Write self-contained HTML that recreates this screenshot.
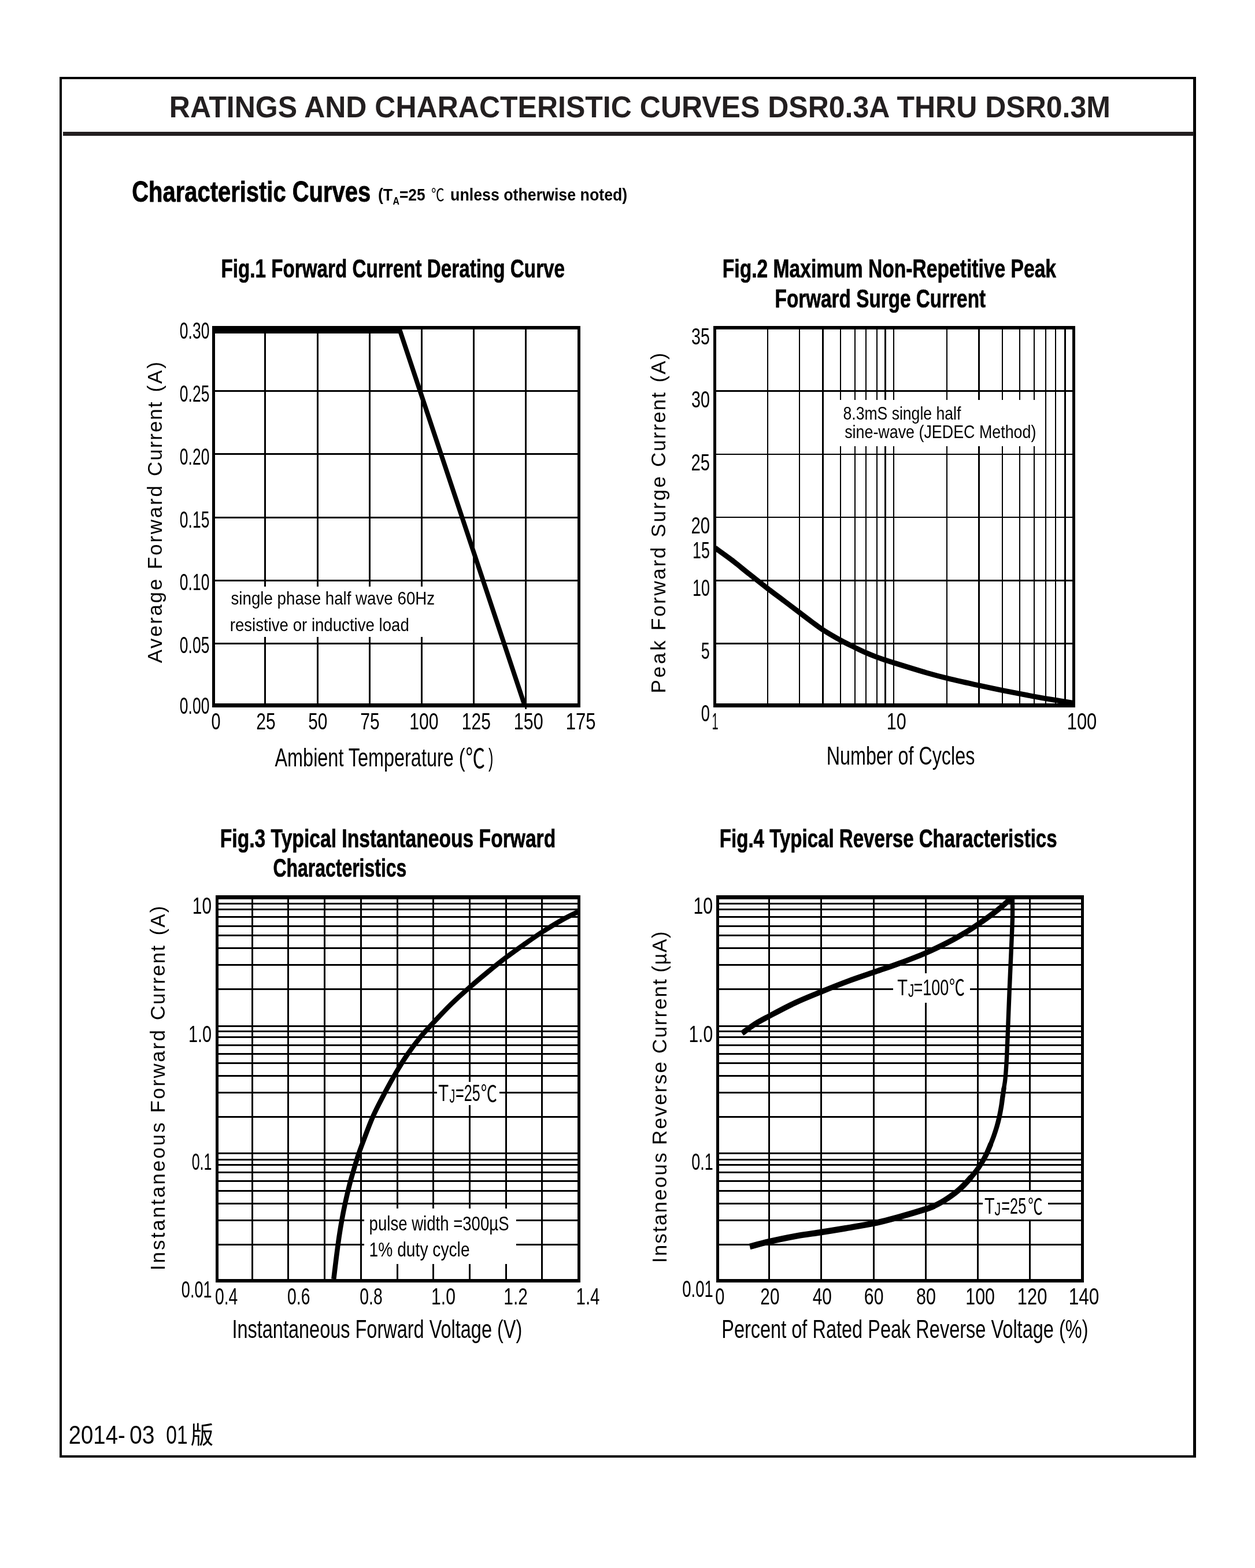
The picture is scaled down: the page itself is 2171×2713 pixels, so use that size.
<!DOCTYPE html>
<html lang="en"><head><meta charset="utf-8"><title>RATINGS AND CHARACTERISTIC CURVES DSR0.3A THRU DSR0.3M</title>
<style>
html,body{margin:0;padding:0;background:#fff}
body{width:2171px;height:2713px;overflow:hidden}
svg{display:block}
text{font-family:"Liberation Sans",sans-serif;fill:#000;white-space:pre}
</style></head><body>
<svg width="2171" height="2713" viewBox="0 0 2171 2713">
<rect width="2171" height="2713" fill="#fff"/>
<g shape-rendering="crispEdges">
<rect x="105.3" y="135.3" width="1961.3" height="2384.4" fill="none" stroke="#000" stroke-width="4.3"/>
<rect x="109" y="228" width="1956" height="6.6" fill="#231f20"/>
<rect x="457" y="564" width="3" height="660" fill="#000"/>
<rect x="548" y="564" width="3" height="660" fill="#000"/>
<rect x="638" y="564" width="3" height="660" fill="#000"/>
<rect x="728" y="564" width="3" height="660" fill="#000"/>
<rect x="818" y="564" width="3" height="660" fill="#000"/>
<rect x="908" y="564" width="3" height="660" fill="#000"/>
<rect x="367" y="675" width="637" height="3" fill="#000"/>
<rect x="367" y="784" width="637" height="3" fill="#000"/>
<rect x="367" y="894" width="637" height="3" fill="#000"/>
<rect x="367" y="1003" width="637" height="3" fill="#000"/>
<rect x="367" y="1112" width="637" height="3" fill="#000"/>
<rect x="373" y="1014.5" width="397" height="87.5" fill="#fff"/>
<rect x="367" y="564" width="5" height="660" fill="#000"/>
<rect x="999" y="564" width="5" height="660" fill="#000"/>
<rect x="367" y="564" width="637" height="6" fill="#000"/>
<rect x="367" y="1217" width="637" height="7" fill="#000"/>
<rect x="367" y="564" width="325" height="12.8" fill="#000"/>
<rect x="908" y="1217" width="3" height="10" fill="#000"/>
<rect x="1326.9" y="564" width="2.2" height="660" fill="#000"/>
<rect x="1382" y="564" width="2.2" height="660" fill="#000"/>
<rect x="1422.4" y="564" width="2.2" height="660" fill="#000"/>
<rect x="1452.5" y="564" width="2.2" height="660" fill="#000"/>
<rect x="1477.5" y="564" width="2.2" height="660" fill="#000"/>
<rect x="1497.2" y="564" width="2.2" height="660" fill="#000"/>
<rect x="1515.5" y="564" width="2.2" height="660" fill="#000"/>
<rect x="1530.4" y="564" width="2.2" height="660" fill="#000"/>
<rect x="1545.2" y="564" width="2.2" height="660" fill="#000"/>
<rect x="1636.8" y="564" width="2.2" height="660" fill="#000"/>
<rect x="1692.4" y="564" width="2.2" height="660" fill="#000"/>
<rect x="1732.8" y="564" width="2.2" height="660" fill="#000"/>
<rect x="1762.6" y="564" width="2.2" height="660" fill="#000"/>
<rect x="1787.9" y="564" width="2.2" height="660" fill="#000"/>
<rect x="1807.9" y="564" width="2.2" height="660" fill="#000"/>
<rect x="1824.6" y="564" width="2.2" height="660" fill="#000"/>
<rect x="1841.3" y="564" width="2.2" height="660" fill="#000"/>
<rect x="1234" y="675.3" width="626" height="2.6" fill="#000"/>
<rect x="1234" y="784.7" width="626" height="2.6" fill="#000"/>
<rect x="1234" y="893.7" width="626" height="2.6" fill="#000"/>
<rect x="1234" y="1002.9" width="626" height="2.6" fill="#000"/>
<rect x="1234" y="1112.1" width="626" height="2.6" fill="#000"/>
<rect x="1436" y="691.5" width="364" height="80.7" fill="#fff"/>
<rect x="1234" y="564" width="5" height="660" fill="#000"/>
<rect x="1855" y="564" width="5" height="660" fill="#000"/>
<rect x="1234" y="564" width="626" height="6" fill="#000"/>
<rect x="1234" y="1217" width="626" height="7" fill="#000"/>
<rect x="435" y="1549" width="3" height="670" fill="#000"/>
<rect x="497" y="1549" width="3" height="670" fill="#000"/>
<rect x="560" y="1549" width="3" height="670" fill="#000"/>
<rect x="623" y="1549" width="3" height="670" fill="#000"/>
<rect x="686" y="1549" width="3" height="670" fill="#000"/>
<rect x="748" y="1549" width="3" height="670" fill="#000"/>
<rect x="811" y="1549" width="3" height="670" fill="#000"/>
<rect x="874" y="1549" width="3" height="670" fill="#000"/>
<rect x="936" y="1549" width="3" height="670" fill="#000"/>
<rect x="373" y="1562" width="631" height="3" fill="#000"/>
<rect x="373" y="1572" width="631" height="3" fill="#000"/>
<rect x="373" y="1585" width="631" height="3" fill="#000"/>
<rect x="373" y="1601" width="631" height="3" fill="#000"/>
<rect x="373" y="1617" width="631" height="3" fill="#000"/>
<rect x="373" y="1639" width="631" height="3" fill="#000"/>
<rect x="373" y="1668" width="631" height="3" fill="#000"/>
<rect x="373" y="1710" width="631" height="3" fill="#000"/>
<rect x="373" y="1774" width="631" height="3" fill="#000"/>
<rect x="373" y="1783" width="631" height="3" fill="#000"/>
<rect x="373" y="1793" width="631" height="3" fill="#000"/>
<rect x="373" y="1807" width="631" height="3" fill="#000"/>
<rect x="373" y="1822" width="631" height="3" fill="#000"/>
<rect x="373" y="1838" width="631" height="3" fill="#000"/>
<rect x="373" y="1860" width="631" height="3" fill="#000"/>
<rect x="373" y="1889" width="631" height="3" fill="#000"/>
<rect x="373" y="1931" width="631" height="3" fill="#000"/>
<rect x="373" y="1994" width="631" height="3" fill="#000"/>
<rect x="373" y="2005" width="631" height="3" fill="#000"/>
<rect x="373" y="2014" width="631" height="3" fill="#000"/>
<rect x="373" y="2027" width="631" height="3" fill="#000"/>
<rect x="373" y="2042" width="631" height="3" fill="#000"/>
<rect x="373" y="2059" width="631" height="3" fill="#000"/>
<rect x="373" y="2081" width="631" height="3" fill="#000"/>
<rect x="373" y="2110" width="631" height="3" fill="#000"/>
<rect x="373" y="2152" width="631" height="3" fill="#000"/>
<rect x="755.8" y="1871.7" width="108.4" height="40.1" fill="#fff"/>
<rect x="630.4" y="2090.8" width="262.6" height="96.2" fill="#fff"/>
<rect x="373" y="1549" width="5" height="670" fill="#000"/>
<rect x="999" y="1549" width="5" height="670" fill="#000"/>
<rect x="373" y="1549" width="631" height="6.5" fill="#000"/>
<rect x="373" y="2212.5" width="631" height="6.5" fill="#000"/>
<rect x="1329" y="1549" width="3" height="670" fill="#000"/>
<rect x="1419" y="1549" width="3" height="670" fill="#000"/>
<rect x="1510" y="1549" width="3" height="670" fill="#000"/>
<rect x="1600" y="1549" width="3" height="670" fill="#000"/>
<rect x="1690" y="1549" width="3" height="670" fill="#000"/>
<rect x="1780" y="1549" width="3" height="670" fill="#000"/>
<rect x="1239" y="1562" width="636" height="3" fill="#000"/>
<rect x="1239" y="1572" width="636" height="3" fill="#000"/>
<rect x="1239" y="1585" width="636" height="3" fill="#000"/>
<rect x="1239" y="1601" width="636" height="3" fill="#000"/>
<rect x="1239" y="1617" width="636" height="3" fill="#000"/>
<rect x="1239" y="1639" width="636" height="3" fill="#000"/>
<rect x="1239" y="1668" width="636" height="3" fill="#000"/>
<rect x="1239" y="1710" width="636" height="3" fill="#000"/>
<rect x="1239" y="1774" width="636" height="3" fill="#000"/>
<rect x="1239" y="1783" width="636" height="3" fill="#000"/>
<rect x="1239" y="1793" width="636" height="3" fill="#000"/>
<rect x="1239" y="1807" width="636" height="3" fill="#000"/>
<rect x="1239" y="1822" width="636" height="3" fill="#000"/>
<rect x="1239" y="1838" width="636" height="3" fill="#000"/>
<rect x="1239" y="1860" width="636" height="3" fill="#000"/>
<rect x="1239" y="1889" width="636" height="3" fill="#000"/>
<rect x="1239" y="1931" width="636" height="3" fill="#000"/>
<rect x="1239" y="1994" width="636" height="3" fill="#000"/>
<rect x="1239" y="2005" width="636" height="3" fill="#000"/>
<rect x="1239" y="2014" width="636" height="3" fill="#000"/>
<rect x="1239" y="2027" width="636" height="3" fill="#000"/>
<rect x="1239" y="2042" width="636" height="3" fill="#000"/>
<rect x="1239" y="2059" width="636" height="3" fill="#000"/>
<rect x="1239" y="2081" width="636" height="3" fill="#000"/>
<rect x="1239" y="2110" width="636" height="3" fill="#000"/>
<rect x="1239" y="2152" width="636" height="3" fill="#000"/>
<rect x="1544.8" y="1683.6" width="133.2" height="51.4" fill="#fff"/>
<rect x="1700" y="2062" width="113" height="47.5" fill="#fff"/>
<rect x="1239" y="1549" width="5" height="670" fill="#000"/>
<rect x="1870" y="1549" width="5" height="670" fill="#000"/>
<rect x="1239" y="1549" width="636" height="6.5" fill="#000"/>
<rect x="1239" y="2212.5" width="636" height="6.5" fill="#000"/>
</g>
<g>
<path d="M686 572.5 L692 572.5 L906.8 1218" fill="none" stroke="#000" stroke-width="8" stroke-linejoin="miter"/>
<path d="M1237 948C1242.02 951.65 1257.45 962.53 1267.1 969.9C1276.75 977.27 1284.78 984.17 1294.9 992.2C1305.02 1000.23 1317.58 1010.22 1327.8 1018.1C1338.02 1025.98 1346.98 1032.53 1356.2 1039.5C1365.42 1046.47 1375.22 1053.93 1383.1 1059.9C1390.98 1065.87 1396.7 1070.28 1403.5 1075.3C1410.3 1080.32 1415.55 1084.63 1423.9 1090C1432.25 1095.37 1444.48 1102.47 1453.6 1107.5C1462.72 1112.53 1471.18 1116.55 1478.6 1120.2C1486.02 1123.85 1491.77 1126.62 1498.1 1129.4C1504.43 1132.18 1511.03 1134.8 1516.6 1136.9C1522.17 1139 1526.38 1140.3 1531.5 1142C1536.62 1143.7 1535.45 1143.43 1547.3 1147.1C1559.15 1150.77 1587.32 1159.58 1602.6 1164C1617.88 1168.42 1623.7 1169.9 1639 1173.6C1654.3 1177.3 1678.47 1182.7 1694.4 1186.2C1710.33 1189.7 1718.67 1191.42 1734.6 1194.6C1750.53 1197.78 1774.37 1202.43 1790 1205.3C1805.63 1208.17 1817.23 1209.93 1828.4 1211.8C1839.57 1213.67 1852.23 1215.72 1857 1216.5" fill="none" stroke="#000" stroke-width="9" stroke-linecap="butt" stroke-linejoin="round"/>
<path d="M577.3 2213C578.07 2206.68 580.37 2187.15 581.9 2175.1C583.43 2163.05 584.9 2151.53 586.5 2140.7C588.1 2129.87 589.72 2119.98 591.5 2110.1C593.28 2100.22 594.97 2091.6 597.2 2081.4C599.43 2071.2 602.35 2058.78 604.9 2048.9C607.45 2039.02 609.95 2030.72 612.5 2022.1C615.05 2013.48 617.65 2004.85 620.2 1997.2C622.75 1989.55 623.67 1987.03 627.8 1976.2C631.93 1965.37 638.62 1946.55 645 1932.2C651.38 1917.85 659.4 1902.85 666.1 1890.1C672.8 1877.35 678.82 1866.55 685.2 1855.7C691.58 1844.85 697.38 1835.22 704.4 1825C711.42 1814.78 719.78 1803.63 727.3 1794.4C734.82 1785.17 740.57 1779.17 749.5 1769.6C758.43 1760.03 770.43 1747.2 780.9 1737C791.37 1726.8 801.78 1717.63 812.3 1708.4C822.82 1699.17 833.48 1690.22 844 1681.6C854.52 1672.98 864.88 1664.68 875.4 1656.7C885.92 1648.72 896.72 1641.03 907.1 1633.7C917.48 1626.37 926.85 1619.7 937.7 1612.7C948.55 1605.7 961.82 1597.57 972.2 1591.7C982.58 1585.83 995.37 1579.87 1000 1577.5" fill="none" stroke="#000" stroke-width="8.5" stroke-linecap="butt" stroke-linejoin="round"/>
<path d="M1283.6 1787.9C1287.42 1785.17 1298.67 1776.47 1306.5 1771.5C1314.33 1766.53 1319.12 1764.17 1330.6 1758.1C1342.08 1752.03 1360.42 1742.12 1375.4 1735.1C1390.38 1728.08 1405.2 1722.25 1420.5 1716C1435.8 1709.75 1452.08 1703.22 1467.2 1697.6C1482.32 1691.98 1496.53 1687.4 1511.2 1682.3C1525.87 1677.2 1540.22 1672.55 1555.2 1667C1570.18 1661.45 1586.43 1655.37 1601.1 1649C1615.77 1642.63 1631.72 1634.72 1643.2 1628.8C1654.68 1622.88 1661.9 1618.42 1670 1613.5C1678.1 1608.58 1684.15 1604.53 1691.8 1599.3C1699.45 1594.07 1708.68 1587.52 1715.9 1582.1C1723.12 1576.68 1729.75 1571.32 1735.1 1566.8C1740.45 1562.28 1745.85 1556.97 1748 1555" fill="none" stroke="#000" stroke-width="9.5" stroke-linecap="butt" stroke-linejoin="round"/>
<path d="M1734.1 1900C1734.83 1894.85 1735.77 1888.75 1736.6 1883C1737.43 1877.25 1738.27 1874.4 1739.1 1865.5C1739.93 1856.6 1740.78 1845.47 1741.6 1829.6C1742.42 1813.73 1743.2 1790.33 1744 1770.3C1744.8 1750.27 1745.55 1729.85 1746.4 1709.4C1747.25 1688.95 1748.27 1667.5 1749.1 1647.6C1749.93 1627.7 1751.02 1605.77 1751.4 1590C1751.78 1574.23 1751.4 1559.17 1751.4 1553" fill="none" stroke="#000" stroke-width="7.4" stroke-linecap="round"/>
<path d="M1706.7 1996.2C1709.2 1990.98 1711.48 1985.22 1713.6 1980C1715.72 1974.78 1717.57 1970.12 1719.4 1964.9C1721.23 1959.68 1723.05 1954.1 1724.6 1948.7C1726.15 1943.3 1727.43 1938.3 1728.7 1932.5C1729.97 1926.7 1731.3 1919.32 1732.2 1913.9C1733.1 1908.48 1733.37 1905.15 1734.1 1900C1734.83 1894.85 1735.77 1888.75 1736.6 1883" fill="none" stroke="#000" stroke-width="8.3" stroke-linecap="round"/>
<path d="M1667.2 2050.7C1671.25 2046.65 1675.12 2042.25 1678.8 2038C1682.48 2033.75 1686 2029.65 1689.3 2025.2C1692.6 2020.75 1695.7 2016.13 1698.6 2011.3C1701.5 2006.47 1704.2 2001.42 1706.7 1996.2C1709.2 1990.98 1711.48 1985.22 1713.6 1980" fill="none" stroke="#000" stroke-width="9" stroke-linecap="round"/>
<path d="M1602.3 2091.8C1612.45 2088.6 1611.68 2088.43 1616 2086.5C1620.32 2084.57 1624.1 2082.53 1628.2 2080.2C1632.3 2077.87 1636.22 2075.48 1640.6 2072.5C1644.98 2069.52 1650.07 2065.93 1654.5 2062.3C1658.93 2058.67 1663.15 2054.75 1667.2 2050.7C1671.25 2046.65 1675.12 2042.25 1678.8 2038" fill="none" stroke="#000" stroke-width="9.8" stroke-linecap="round"/>
<path d="M1297 2156.9C1302.48 2155.48 1316.5 2151.45 1329.9 2148.4C1343.3 2145.35 1362.27 2141.33 1377.4 2138.6C1392.53 2135.87 1406.5 2134.23 1420.7 2132C1434.9 2129.77 1447.5 2127.75 1462.6 2125.2C1477.7 2122.65 1495.88 2119.95 1511.3 2116.7C1526.72 2113.45 1539.93 2109.85 1555.1 2105.7C1570.27 2101.55 1592.15 2095 1602.3 2091.8C1612.45 2088.6 1611.68 2088.43 1616 2086.5" fill="none" stroke="#000" stroke-width="10.5"/>
</g>
<g>
<text x="292.78" y="202.9" textLength="1628.2" lengthAdjust="spacingAndGlyphs" style="font-size:51.2px;font-weight:bold;fill:#231f20;">RATINGS AND CHARACTERISTIC CURVES DSR0.3A THRU DSR0.3M</text>
<text style="font-size:10px"><tspan x="228.26" y="349" textLength="412.85" lengthAdjust="spacingAndGlyphs" style="font-size:50.3px;font-weight:bold;stroke:#000;stroke-width:0.9;">Characteristic Curves</tspan> <tspan x="653.88" y="347.1" textLength="25.42" lengthAdjust="spacingAndGlyphs" style="font-size:29.3px;font-weight:bold;">(T</tspan><tspan x="679.6" y="354.3" textLength="11.4" lengthAdjust="spacingAndGlyphs" style="font-size:18px;font-weight:bold;">A</tspan><tspan x="691" y="347.1" textLength="44.66" lengthAdjust="spacingAndGlyphs" style="font-size:29.3px;font-weight:bold;">=25</tspan> <tspan x="745.92" y="347.6" textLength="22.66" lengthAdjust="spacingAndGlyphs" style="font-size:29px;font-family:'Liberation Sans', 'Noto Sans CJK SC', sans-serif;">℃</tspan> <tspan x="779.09" y="347.1" textLength="306.2" lengthAdjust="spacingAndGlyphs" style="font-size:29.3px;font-weight:bold;">unless otherwise noted)</tspan></text>
<text x="382.44" y="479.6" textLength="594.62" lengthAdjust="spacingAndGlyphs" style="font-size:44px;font-weight:bold;stroke:#000;stroke-width:0.7;">Fig.1 Forward Current Derating Curve</text>
<text x="310.86" y="586" textLength="51.53" lengthAdjust="spacingAndGlyphs" style="font-size:41.2px;">0.30</text>
<text x="310.86" y="694.5" textLength="51.53" lengthAdjust="spacingAndGlyphs" style="font-size:41.2px;">0.25</text>
<text x="310.86" y="804" textLength="51.53" lengthAdjust="spacingAndGlyphs" style="font-size:41.2px;">0.20</text>
<text x="310.86" y="912.5" textLength="51.53" lengthAdjust="spacingAndGlyphs" style="font-size:41.2px;">0.15</text>
<text x="310.86" y="1020.5" textLength="51.53" lengthAdjust="spacingAndGlyphs" style="font-size:41.2px;">0.10</text>
<text x="310.86" y="1129.5" textLength="51.53" lengthAdjust="spacingAndGlyphs" style="font-size:41.2px;">0.05</text>
<text x="310.86" y="1234.6" textLength="51.53" lengthAdjust="spacingAndGlyphs" style="font-size:41.2px;">0.00</text>
<text x="365.6" y="1262" textLength="16.03" lengthAdjust="spacingAndGlyphs" style="font-size:41.2px;">0</text>
<text x="443.24" y="1262" textLength="33.42" lengthAdjust="spacingAndGlyphs" style="font-size:41.2px;">25</text>
<text x="533.28" y="1262" textLength="33.18" lengthAdjust="spacingAndGlyphs" style="font-size:41.2px;">50</text>
<text x="623.24" y="1262" textLength="33.42" lengthAdjust="spacingAndGlyphs" style="font-size:41.2px;">75</text>
<text x="708.3" y="1262" textLength="50.36" lengthAdjust="spacingAndGlyphs" style="font-size:41.2px;">100</text>
<text x="798.81" y="1262" textLength="50.26" lengthAdjust="spacingAndGlyphs" style="font-size:41.2px;">125</text>
<text x="888.78" y="1262" textLength="50.89" lengthAdjust="spacingAndGlyphs" style="font-size:41.2px;">150</text>
<text x="978.73" y="1262" textLength="51.95" lengthAdjust="spacingAndGlyphs" style="font-size:41.2px;">175</text>
<text style="font-size:10px"><tspan x="475.5" y="1325.9" textLength="329.04" lengthAdjust="spacingAndGlyphs" style="font-size:44.4px;">Ambient Temperature (</tspan><tspan x="805.57" y="1329" textLength="33.65" lengthAdjust="spacingAndGlyphs" style="font-size:47px;font-family:'Liberation Sans', 'Noto Sans CJK SC', sans-serif;">℃</tspan><tspan x="845" y="1325.9" textLength="8.41" lengthAdjust="spacingAndGlyphs" style="font-size:44.4px;">)</tspan></text>
<text transform="translate(280 0) rotate(-90)" style="font-size:10px"><tspan x="-1147.3" y="0" textLength="145.47" lengthAdjust="spacing" style="font-size:35px;">Average</tspan> <tspan x="-985" y="0" textLength="144.77" lengthAdjust="spacing" style="font-size:35px;">Forward</tspan> <tspan x="-823.9" y="0" textLength="128.42" lengthAdjust="spacing" style="font-size:35px;">Current</tspan> <tspan x="-678.4" y="0" textLength="52.26" lengthAdjust="spacing" style="font-size:35px;">(A)</tspan></text>
<text style="font-size:10px"><tspan x="399.5" y="1045.6" textLength="352.64" lengthAdjust="spacingAndGlyphs" style="font-size:30.5px;">single phase half wave 60Hz</tspan> <tspan x="397.69" y="1091.5" textLength="310.09" lengthAdjust="spacingAndGlyphs" style="font-size:30.5px;">resistive or inductive load</tspan></text>
<text style="font-size:10px"><tspan x="1249.82" y="479.6" textLength="577.22" lengthAdjust="spacingAndGlyphs" style="font-size:44px;font-weight:bold;stroke:#000;stroke-width:0.7;">Fig.2 Maximum Non-Repetitive Peak</tspan> <tspan x="1340.54" y="531.8" textLength="364.55" lengthAdjust="spacingAndGlyphs" style="font-size:44px;font-weight:bold;stroke:#000;stroke-width:0.7;">Forward Surge Current</tspan></text>
<text x="1196.11" y="596" textLength="31.82" lengthAdjust="spacingAndGlyphs" style="font-size:41.2px;">35</text>
<text x="1196.11" y="704.5" textLength="31.82" lengthAdjust="spacingAndGlyphs" style="font-size:41.2px;">30</text>
<text x="1195.38" y="814" textLength="32.57" lengthAdjust="spacingAndGlyphs" style="font-size:41.2px;">25</text>
<text x="1195.38" y="923" textLength="32.57" lengthAdjust="spacingAndGlyphs" style="font-size:41.2px;">20</text>
<text x="1198.05" y="966" textLength="29.84" lengthAdjust="spacingAndGlyphs" style="font-size:41.2px;">15</text>
<text x="1198.05" y="1031" textLength="29.84" lengthAdjust="spacingAndGlyphs" style="font-size:41.2px;">10</text>
<text x="1212.84" y="1139.5" textLength="15.05" lengthAdjust="spacingAndGlyphs" style="font-size:41.2px;">5</text>
<text x="1212.74" y="1247.5" textLength="15.16" lengthAdjust="spacingAndGlyphs" style="font-size:41.2px;">0</text>
<text x="1231.55" y="1262" textLength="11.07" lengthAdjust="spacingAndGlyphs" style="font-size:41.2px;">1</text>
<text x="1533.78" y="1262" textLength="33.89" lengthAdjust="spacingAndGlyphs" style="font-size:41.2px;">10</text>
<text x="1845.75" y="1262" textLength="51.53" lengthAdjust="spacingAndGlyphs" style="font-size:41.2px;">100</text>
<text x="1429.72" y="1322.8" textLength="256.55" lengthAdjust="spacingAndGlyphs" style="font-size:44.4px;">Number of Cycles</text>
<text transform="translate(1151 0) rotate(-90)" style="font-size:10px"><tspan x="-1199.6" y="0" textLength="91.3" lengthAdjust="spacing" style="font-size:35px;">Peak</tspan> <tspan x="-1091.1" y="0" textLength="144.37" lengthAdjust="spacing" style="font-size:35px;">Forward</tspan> <tspan x="-929.8" y="0" textLength="105.57" lengthAdjust="spacing" style="font-size:35px;">Surge</tspan> <tspan x="-808" y="0" textLength="128.92" lengthAdjust="spacing" style="font-size:35px;">Current</tspan> <tspan x="-661.7" y="0" textLength="51.16" lengthAdjust="spacing" style="font-size:35px;">(A)</tspan></text>
<text style="font-size:10px"><tspan x="1458.47" y="725.7" textLength="203.84" lengthAdjust="spacingAndGlyphs" style="font-size:32px;">8.3mS single half</tspan> <tspan x="1461.2" y="757.7" textLength="331.19" lengthAdjust="spacingAndGlyphs" style="font-size:32px;">sine-wave (JEDEC Method)</tspan></text>
<text style="font-size:10px"><tspan x="380.82" y="1465.6" textLength="580.43" lengthAdjust="spacingAndGlyphs" style="font-size:44px;font-weight:bold;stroke:#000;stroke-width:0.7;">Fig.3 Typical Instantaneous Forward</tspan> <tspan x="472.42" y="1517" textLength="230.89" lengthAdjust="spacingAndGlyphs" style="font-size:44px;font-weight:bold;stroke:#000;stroke-width:0.7;">Characteristics</tspan></text>
<text x="332.83" y="1581" textLength="33.12" lengthAdjust="spacingAndGlyphs" style="font-size:41.2px;">10</text>
<text x="325.9" y="1803" textLength="40.03" lengthAdjust="spacingAndGlyphs" style="font-size:41.2px;">1.0</text>
<text x="331.69" y="2024" textLength="34.76" lengthAdjust="spacingAndGlyphs" style="font-size:41.2px;">0.1</text>
<text x="313.84" y="2244.5" textLength="52.71" lengthAdjust="spacingAndGlyphs" style="font-size:41.2px;">0.01</text>
<text x="371.91" y="2257" textLength="39.31" lengthAdjust="spacingAndGlyphs" style="font-size:41.2px;">0.4</text>
<text x="497.11" y="2257" textLength="39.31" lengthAdjust="spacingAndGlyphs" style="font-size:41.2px;">0.6</text>
<text x="622.31" y="2257" textLength="39.31" lengthAdjust="spacingAndGlyphs" style="font-size:41.2px;">0.8</text>
<text x="746.11" y="2257" textLength="41.75" lengthAdjust="spacingAndGlyphs" style="font-size:41.2px;">1.0</text>
<text x="871.32" y="2257" textLength="41.56" lengthAdjust="spacingAndGlyphs" style="font-size:41.2px;">1.2</text>
<text x="996.56" y="2257" textLength="40.89" lengthAdjust="spacingAndGlyphs" style="font-size:41.2px;">1.4</text>
<text x="401.47" y="2315.3" textLength="501.83" lengthAdjust="spacingAndGlyphs" style="font-size:44.4px;">Instantaneous Forward Voltage (V)</text>
<text transform="translate(285 0) rotate(-90)" style="font-size:10px"><tspan x="-2198.3" y="0" textLength="256" lengthAdjust="spacing" style="font-size:35px;">Instantaneous</tspan> <tspan x="-1925.6" y="0" textLength="143.57" lengthAdjust="spacing" style="font-size:35px;">Forward</tspan> <tspan x="-1765.3" y="0" textLength="129.22" lengthAdjust="spacing" style="font-size:35px;">Current</tspan> <tspan x="-1618.6" y="0" textLength="51.06" lengthAdjust="spacing" style="font-size:35px;">(A)</tspan></text>
<text style="font-size:10px"><tspan x="758.3" y="1905.3" textLength="17.82" lengthAdjust="spacingAndGlyphs" style="font-size:40px;">T</tspan><tspan x="777.5" y="1908" textLength="9.68" lengthAdjust="spacingAndGlyphs" style="font-size:33px;">J</tspan><tspan x="788.07" y="1905.3" textLength="42.82" lengthAdjust="spacingAndGlyphs" style="font-size:40px;">=25</tspan><tspan x="831.78" y="1906" textLength="28.25" lengthAdjust="spacingAndGlyphs" style="font-size:39px;font-family:'Liberation Sans', 'Noto Sans CJK SC', sans-serif;">℃</tspan></text>
<text style="font-size:10px"><tspan x="638.62" y="2129" textLength="241.93" lengthAdjust="spacingAndGlyphs" style="font-size:35px;">pulse width =300µS</tspan> <tspan x="638.59" y="2173.6" textLength="173.99" lengthAdjust="spacingAndGlyphs" style="font-size:35px;">1% duty cycle</tspan></text>
<text x="1244.85" y="1465.6" textLength="583.81" lengthAdjust="spacingAndGlyphs" style="font-size:44px;font-weight:bold;stroke:#000;stroke-width:0.7;">Fig.4 Typical Reverse Characteristics</text>
<text x="1199.5" y="1581" textLength="33.67" lengthAdjust="spacingAndGlyphs" style="font-size:41.2px;">10</text>
<text x="1191.41" y="1803" textLength="41.75" lengthAdjust="spacingAndGlyphs" style="font-size:41.2px;">1.0</text>
<text x="1196.35" y="2024" textLength="37.4" lengthAdjust="spacingAndGlyphs" style="font-size:41.2px;">0.1</text>
<text x="1180.33" y="2243.5" textLength="53.44" lengthAdjust="spacingAndGlyphs" style="font-size:41.2px;">0.01</text>
<text x="1237.3" y="2256.5" textLength="16.14" lengthAdjust="spacingAndGlyphs" style="font-size:41.2px;">0</text>
<text x="1315.35" y="2256.5" textLength="33.1" lengthAdjust="spacingAndGlyphs" style="font-size:41.2px;">20</text>
<text x="1405.8" y="2256.5" textLength="33.16" lengthAdjust="spacingAndGlyphs" style="font-size:41.2px;">40</text>
<text x="1494.83" y="2256.5" textLength="33.63" lengthAdjust="spacingAndGlyphs" style="font-size:41.2px;">60</text>
<text x="1585.06" y="2256.5" textLength="33.91" lengthAdjust="spacingAndGlyphs" style="font-size:41.2px;">80</text>
<text x="1670.29" y="2256.5" textLength="50.68" lengthAdjust="spacingAndGlyphs" style="font-size:41.2px;">100</text>
<text x="1759.75" y="2256.5" textLength="51.64" lengthAdjust="spacingAndGlyphs" style="font-size:41.2px;">120</text>
<text x="1848.7" y="2256.5" textLength="52.7" lengthAdjust="spacingAndGlyphs" style="font-size:41.2px;">140</text>
<text x="1248.2" y="2315.3" textLength="634.3" lengthAdjust="spacingAndGlyphs" style="font-size:44.4px;">Percent of Rated Peak Reverse Voltage (%)</text>
<text transform="translate(1152.6 0) rotate(-90)" style="font-size:10px"><tspan x="-2185.2" y="0" textLength="190.7" lengthAdjust="spacing" style="font-size:35px;">Instaneous</tspan> <tspan x="-1981" y="0" textLength="143.87" lengthAdjust="spacing" style="font-size:35px;">Reverse</tspan> <tspan x="-1822.9" y="0" textLength="128.72" lengthAdjust="spacing" style="font-size:35px;">Current</tspan> <tspan x="-1682.7" y="0" textLength="71.16" lengthAdjust="spacing" style="font-size:35px;">(µA)</tspan></text>
<text style="font-size:10px"><tspan x="1552.2" y="1721.6" textLength="17.79" lengthAdjust="spacingAndGlyphs" style="font-size:38.5px;">T</tspan><tspan x="1571" y="1724.5" textLength="10.29" lengthAdjust="spacingAndGlyphs" style="font-size:32px;">J</tspan><tspan x="1580.5" y="1721.6" textLength="60.79" lengthAdjust="spacingAndGlyphs" style="font-size:38.5px;">=100</tspan><tspan x="1641.89" y="1722.3" textLength="26.92" lengthAdjust="spacingAndGlyphs" style="font-size:38px;font-family:'Liberation Sans', 'Noto Sans CJK SC', sans-serif;">℃</tspan></text>
<text style="font-size:10px"><tspan x="1703" y="2100" textLength="17.61" lengthAdjust="spacingAndGlyphs" style="font-size:39px;">T</tspan><tspan x="1720.6" y="2103" textLength="10.74" lengthAdjust="spacingAndGlyphs" style="font-size:32px;">J</tspan><tspan x="1732.35" y="2100" textLength="42.9" lengthAdjust="spacingAndGlyphs" style="font-size:39px;">=25</tspan><tspan x="1778.33" y="2100.7" textLength="25.44" lengthAdjust="spacingAndGlyphs" style="font-size:38px;font-family:'Liberation Sans', 'Noto Sans CJK SC', sans-serif;">℃</tspan></text>
<text style="font-size:10px"><tspan x="118.68" y="2498.3" textLength="98.09" lengthAdjust="spacingAndGlyphs" style="font-size:44.5px;">2014-</tspan> <tspan x="223.92" y="2498.3" textLength="43.62" lengthAdjust="spacingAndGlyphs" style="font-size:44.5px;">03</tspan> <tspan x="287.24" y="2498.3" textLength="37.38" lengthAdjust="spacingAndGlyphs" style="font-size:44.5px;">01</tspan><tspan x="329.66" y="2497.8" textLength="39.59" lengthAdjust="spacingAndGlyphs" style="font-size:42px;font-family:'Liberation Sans', 'Noto Sans CJK SC', sans-serif;">版</tspan></text>
</g>
</svg>
</body></html>
